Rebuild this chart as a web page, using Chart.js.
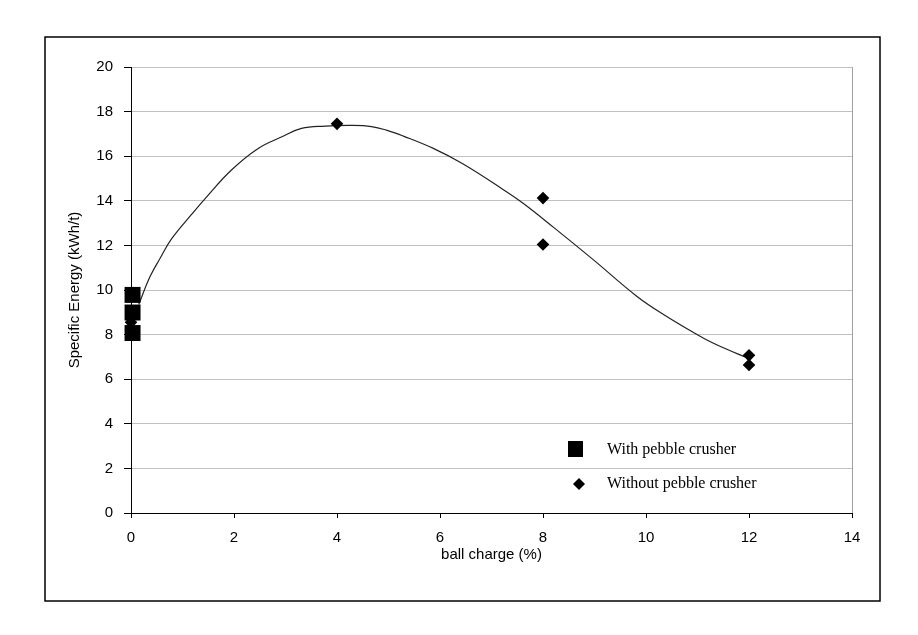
<!DOCTYPE html>
<html>
<head>
<meta charset="utf-8">
<script src="https://cdn.jsdelivr.net/npm/chart.js@4.4.1/dist/chart.umd.min.js"></script>
<style>
  html, body { margin: 0; padding: 0; background: #fff; }
  #wrap { width: 918px; height: 635px; position: relative; }
</style>
</head>
<body>
<div id="wrap"><canvas id="chart"></canvas></div>
<script>
// points
const withX = [0.03, 0.03, 0.03];
const withY = [9.78, 8.99, 8.07];
const withoutX = [0, 4, 8, 8, 12, 12];
const withoutY = [8.55, 17.45, 14.12, 12.04, 7.07, 6.64];
// trend curve, sampled by eye
const trendX = [0.15, 0.37, 0.56, 0.79, 1.18, 1.44, 1.95, 2.47, 2.93, 3.31, 3.77, 4.29, 4.67, 4.96, 5.29, 5.87, 6.45, 7.23, 7.62, 8.2, 8.98, 9.82, 10.34, 11.11, 11.57, 11.92];
const trendY = [9.35, 10.6, 11.4, 12.3, 13.4, 14.1, 15.38, 16.35, 16.87, 17.25, 17.35, 17.38, 17.33, 17.17, 16.9, 16.35, 15.65, 14.5, 13.88, 12.82, 11.35, 9.72, 8.9, 7.85, 7.34, 7.0];
const legendLabels = ['With pebble crusher', 'Without pebble crusher'];

function pairs(xs, ys) {
    return xs.map(function(x, i) { return {x: x, y: ys[i]}; });
}

const sansFont = {family: "'Liberation Sans', Arial, sans-serif", size: 15};

// outer frame, right border of plot, and the inset legend
const framePlugin = {
    id: 'frame',
    beforeDatasetsDraw: function(chart) {
        const a = chart.chartArea, ctx = chart.ctx;
        ctx.save();
        ctx.strokeStyle = '#a0a0a0';
        ctx.lineWidth = 1;
        ctx.beginPath();
        ctx.moveTo(Math.round(a.right) + 0.5, a.top);
        ctx.lineTo(Math.round(a.right) + 0.5, a.bottom);
        ctx.stroke();
        ctx.restore();
    },
    afterDraw: function(chart) {
        const ctx = chart.ctx;
        ctx.save();
        ctx.strokeStyle = '#000';
        ctx.lineWidth = 1.5;
        ctx.strokeRect(45, 37, 835, 564);

        // legend
        ctx.fillStyle = '#000';
        ctx.fillRect(575 - 7, 449 - 8, 15, 16);
        ctx.beginPath();
        ctx.moveTo(579, 484 - 6);
        ctx.lineTo(579 + 6, 484);
        ctx.lineTo(579, 484 + 6);
        ctx.lineTo(579 - 6, 484);
        ctx.closePath();
        ctx.fill();
        ctx.font = "16px 'Liberation Serif', 'Times New Roman', serif";
        ctx.textBaseline = 'middle';
        ctx.textAlign = 'left';
        ctx.fillText(legendLabels[0], 607, 450);
        ctx.fillText(legendLabels[1], 607, 484);
        ctx.restore();
    }
};

const ctx = document.getElementById('chart');
new Chart(ctx, {
    type: 'scatter',
    data: {
        datasets: [{
            label: legendLabels[0],
            data: pairs(withX, withY),
            pointStyle: 'rect',
            pointRadius: 11.3,
            backgroundColor: '#000',
            borderColor: '#000',
            borderWidth: 0,
            clip: false
        }, {
            label: legendLabels[1],
            data: pairs(withoutX, withoutY),
            pointStyle: 'rectRot',
            pointRadius: 6.3,
            backgroundColor: '#000',
            borderColor: '#000',
            borderWidth: 0,
            clip: false
        }, {
            label: 'trend',
            data: pairs(trendX, trendY),
            showLine: true,
            pointRadius: 0,
            borderColor: '#222',
            borderWidth: 1.2,
            tension: 0.4
        }]
    },
    options: {
        responsive: true,
        maintainAspectRatio: false,
        animation: false,
        layout: { padding: { left: 0, top: 67, right: 66, bottom: 0 } },
        plugins: {
            legend: { display: false },
            tooltip: { enabled: false }
        },
        scales: {
            x: {
                min: 0, max: 14,
                ticks: { stepSize: 2, color: '#000', font: sansFont, padding: 11, maxRotation: 0 },
                grid: { drawOnChartArea: false, tickLength: 5, tickColor: '#000' },
                border: { color: '#000', width: 1 },
                title: { display: true, text: 'ball charge (%)', color: '#000', font: sansFont, padding: { bottom: 71 } },
                afterFit: function(s) { s.height = 122; }
            },
            y: {
                min: 0, max: 20,
                ticks: { stepSize: 2, color: '#000', font: sansFont, padding: 11 },
                grid: { color: '#c0c0c0', tickLength: 7, tickColor: '#000' },
                border: { color: '#000', width: 1 },
                title: { display: true, text: 'Specific Energy (kWh/t)', color: '#000', font: sansFont, padding: { top: 66 } },
                afterFit: function(s) { s.width = 131; }
            }
        }
    },
    plugins: [framePlugin]
});
</script>
</body>
</html>
